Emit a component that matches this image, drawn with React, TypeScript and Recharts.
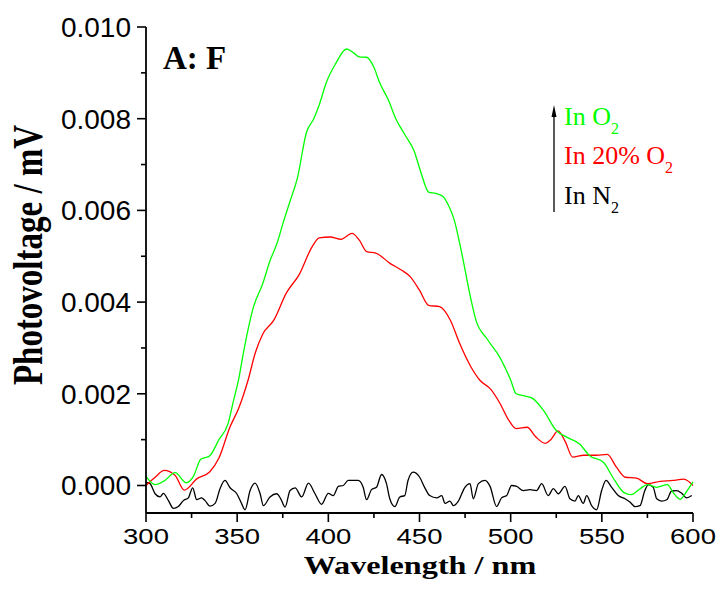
import { LineChart, Line, XAxis, YAxis } from 'recharts';

const greenWavelength = [300, 305, 310, 316, 322, 326, 330, 335, 340, 345, 348, 351, 353, 359, 364, 368, 372, 375, 379, 383, 388, 392, 395, 399, 404, 410, 414, 417, 421, 425, 428, 433, 437, 442, 447, 451, 455, 459, 463, 466, 469, 473, 478, 481, 487, 494, 500, 503, 508, 512, 518, 525, 531, 538, 543, 551, 556, 562, 566, 571, 575, 580, 586, 589, 593, 597, 600];
const greenVoltage = [0.0002, 0.00002, 0.0001, 0.00028, 0.00006, 0.0002, 0.00057, 0.00065, 0.001, 0.00135, 0.00185, 0.00235, 0.0028, 0.0039, 0.0044, 0.0049, 0.0053, 0.0057, 0.0062, 0.0067, 0.0077, 0.008, 0.0083, 0.0088, 0.0092, 0.00952, 0.00943, 0.00935, 0.00934, 0.00912, 0.0088, 0.0084, 0.008, 0.00765, 0.0073, 0.0068, 0.0064, 0.00637, 0.0063, 0.0061, 0.0058, 0.0051, 0.0041, 0.0036, 0.0032, 0.0028, 0.0023, 0.002, 0.00195, 0.0019, 0.00164, 0.0012, 0.00105, 0.0009, 0.00066, 0.0005, 0.00018, -0.00015, -0.0002, -0.00007, 0.00002, -0.00004, 0.00002, -0.00015, -0.0003, -0.0001, 0.00008];

const redWavelength = [300, 305, 310, 316, 321, 328, 335, 340, 346, 351, 356, 360, 364, 370, 377, 384, 391, 395, 401, 407, 413, 417, 421, 426, 434, 440, 445, 450, 455, 461, 467, 472, 478, 483, 489, 494, 499, 503, 509, 514, 519, 522, 526, 530, 534, 540, 547, 553, 558, 563, 569, 575, 582, 589, 595, 600];
const redVoltage = [0.0, 0.00018, 0.00033, 0.00022, -0.0001, 0.00015, 0.0003, 0.0006, 0.00127, 0.0017, 0.0023, 0.0029, 0.0033, 0.0036, 0.0042, 0.0046, 0.0052, 0.0054, 0.00542, 0.00537, 0.0055, 0.00535, 0.0051, 0.00507, 0.00484, 0.0047, 0.00455, 0.00426, 0.00393, 0.0039, 0.0036, 0.0031, 0.0026, 0.0023, 0.0021, 0.0018, 0.00142, 0.00124, 0.00127, 0.00105, 0.00092, 0.001, 0.00119, 0.00095, 0.00062, 0.00066, 0.00066, 0.00068, 0.0004, 0.00018, 0.00016, 0.00004, 0.00009, 0.00011, 0.00014, 0.0];

const blackWavelength = [300, 302.2, 305, 307.7, 309.5, 312.3, 315, 317.7, 320.5, 323.2, 325.6, 327.8, 330.5, 332.4, 335.1, 337.9, 340.6, 343.3, 346.1, 349.8, 352.5, 354.3, 357.1, 359.8, 362.6, 364.4, 368, 371.7, 373.9, 376.3, 379, 381.8, 385.4, 389.1, 392.7, 396.3, 400, 402.7, 405.5, 408.2, 410.9, 413.6, 416.4, 419.1, 421, 423.7, 426.4, 429.2, 431.9, 433.7, 436.5, 439.2, 441.9, 443.7, 446.5, 450.1, 452.8, 455.6, 459.5, 462.2, 464, 466.7, 468.6, 471.3, 474.9, 477.7, 479.5, 482.3, 485.9, 488.7, 492.3, 495, 497.8, 500.5, 503.3, 506.9, 510.6, 514.2, 517, 520.6, 523.4, 526.1, 529.8, 532.5, 535.3, 537.1, 539.8, 541.7, 544.4, 547.1, 549.9, 552.3, 555.4, 559, 562.7, 565.4, 568.2, 570.9, 573.6, 575.5, 578.2, 580.1, 582.8, 585.6, 588.3, 591, 593.8, 596.5, 599.3];
const blackVoltage = [0.00007, 0.00004, -0.00018, -0.00025, -0.00017, -0.00033, -0.0005, -0.00046, -0.00033, -0.00027, -0.00005, -0.00031, -0.00027, -0.00033, -0.00045, -0.00039, -0.00007, 0.00011, -0.00005, -0.00018, -0.0004, -0.00053, -0.00011, 0.00005, -0.00018, -0.00044, -0.00025, -0.00018, -0.00029, -0.00047, -0.00011, -0.00005, -0.00025, 0.00005, -0.00018, -0.00041, -0.00017, -0.00022, -0.00002, 0.0, 0.00011, 0.00011, 0.00011, -0.00004, -0.00031, -0.00009, -0.00004, 0.00024, 0.00004, -0.00029, -0.00046, -0.00025, -0.00022, 0.00011, 0.00029, 0.00018, -0.00004, -0.00022, -0.00027, -0.00022, -0.00039, -0.00034, -0.00044, -0.00034, -0.00004, 0.00004, -0.00029, 0.00004, 0.00011, -0.00002, -0.00046, -0.00027, -0.00022, 0.0, -0.00002, -0.00011, -0.00009, -0.00011, 0.00004, -0.00022, -0.00007, -0.00018, -0.00002, -0.00029, -0.00034, -0.00022, -0.00039, -0.00022, -0.00044, -0.00053, -0.00011, 0.00011, -0.00004, -0.00022, -0.00029, -0.00036, -0.00046, -0.00044, -0.00011, 0.00002, -0.00004, -0.00029, -0.00034, -0.00031, -0.00012, -0.00011, -0.00017, -0.00027, -0.00022];

const xTicks = [300, 325, 350, 375, 400, 425, 450, 475, 500, 525, 550, 575, 600];
const yTicks = [0, 0.001, 0.002, 0.003, 0.004, 0.005, 0.006, 0.007, 0.008, 0.009, 0.01];

const toRows = (wl: number[], v: number[]) => wl.map((w, i) => ({ wl: w, v: v[i] }));
const greenData = toRows(greenWavelength, greenVoltage);
const redData = toRows(redWavelength, redVoltage);
const blackData = toRows(blackWavelength, blackVoltage);

const sans = 'Liberation Sans, Arial, sans-serif';
const serif = 'Liberation Serif, Times New Roman, serif';

const BottomTick = (props: any) => {
    const { x, y, payload } = props;
    const major = payload.value % 50 === 0;
    return (
        <g>
            <line x1={x} y1={y} x2={x} y2={y + (major ? 9 : 5)} stroke="#000" strokeWidth={1.6} />
            {major && (
                <text transform={`translate(${x},${y + 31}) scale(1.25,1)`} textAnchor="middle" fontSize={22}
                    fontFamily={sans} fill="#000">
                    {payload.value}
                </text>
            )}
        </g>
    );
};

const LeftTick = (props: any) => {
    const { x, y, payload } = props;
    const major = Math.round(payload.value * 1000) % 2 === 0;
    return (
        <g>
            <line x1={x} y1={y} x2={x - (major ? 9 : 5)} y2={y} stroke="#000" strokeWidth={1.6} />
            {major && (
                <text x={x - 15} y={y + 10} textAnchor="end" fontSize={28} fontFamily={sans} fill="#000">
                    {payload.value.toFixed(3)}
                </text>
            )}
        </g>
    );
};

const TopTick = (props: any) => (
    <line x1={props.x} y1={props.y} x2={props.x} y2={props.y + 3} stroke="#000" strokeWidth={1.4} />
);

const RightTick = (props: any) => (
    <line x1={props.x} y1={props.y} x2={props.x - 3} y2={props.y} stroke="#000" strokeWidth={1.4} />
);

export default function App() {
    return (
        <div style={{ position: 'absolute', left: 0, top: 0, width: 722, height: 593, background: '#fff' }}>
            <LineChart width={722} height={593} margin={{ top: 27, right: 29, bottom: 0, left: 0 }}>
                <XAxis xAxisId="b" dataKey="wl" type="number" domain={[300, 600]} ticks={xTicks} interval={0}
                    height={80} tickSize={0} tickMargin={0} tickLine={false} tick={<BottomTick />}
                    axisLine={{ stroke: '#000', strokeWidth: 1.8 }} allowDuplicatedCategory={false} />
                <XAxis xAxisId="t" orientation="top" dataKey="wl" type="number" domain={[300, 600]} ticks={xTicks}
                    interval={0} height={0} tickSize={0} tickMargin={0} tickLine={false} tick={<TopTick />}
                    axisLine={{ stroke: '#000', strokeWidth: 1.8 }} />
                <YAxis yAxisId="l" type="number" domain={[-0.0006, 0.01]} ticks={yTicks} interval={0} width={146}
                    tickSize={0} tickMargin={0} tickLine={false} tick={<LeftTick />} allowDataOverflow
                    axisLine={{ stroke: '#000', strokeWidth: 1.8 }} />
                <YAxis yAxisId="r" orientation="right" type="number" domain={[-0.0006, 0.01]} ticks={yTicks}
                    interval={0} width={0} tickSize={0} tickMargin={0} tickLine={false} tick={<RightTick />}
                    allowDataOverflow axisLine={{ stroke: '#000', strokeWidth: 1.8 }} />
                <Line xAxisId="b" yAxisId="l" data={blackData} dataKey="v" type="monotone" stroke="#000000"
                    strokeWidth={1.3} dot={false} isAnimationActive={false} />
                <Line xAxisId="b" yAxisId="l" data={redData} dataKey="v" type="monotone" stroke="#ff0000"
                    strokeWidth={1.3} dot={false} isAnimationActive={false} />
                <Line xAxisId="b" yAxisId="l" data={greenData} dataKey="v" type="monotone" stroke="#00ff00"
                    strokeWidth={1.3} dot={false} isAnimationActive={false} />
            </LineChart>
            <svg width={722} height={593} style={{ position: 'absolute', left: 0, top: 0, pointerEvents: 'none' }}>
                <text x={163} y={69} fontSize={33} fontWeight="bold" fontFamily={serif} fill="#000">A: F</text>
                <line x1={554} y1={212} x2={554} y2={114} stroke="#000" strokeWidth={1.3} />
                <polygon points="554,105 551.5,117 556.5,117" fill="#000" />
                <text x={564} y={125} fontSize={26} fontFamily={serif} fill="#00ff00">
                    In O<tspan fontSize={16} dy={9}>2</tspan>
                </text>
                <text x={564} y={164} fontSize={26} fontFamily={serif} fill="#ff0000">
                    In 20% O<tspan fontSize={16} dy={9}>2</tspan>
                </text>
                <text x={564} y={204} fontSize={26} fontFamily={serif} fill="#000">
                    In N<tspan fontSize={16} dy={9}>2</tspan>
                </text>
                <text transform="translate(420,574) scale(1.24,1)" textAnchor="middle" fontSize={26}
                    fontWeight="bold" fontFamily={serif} fill="#000">
                    Wavelength / nm
                </text>
                <text transform="translate(42,255) scale(1.27,1) rotate(-90)" textAnchor="middle" fontSize={33}
                    fontWeight="bold" fontFamily={serif} fill="#000">
                    Photovoltage / mV
                </text>
            </svg>
        </div>
    );
}
